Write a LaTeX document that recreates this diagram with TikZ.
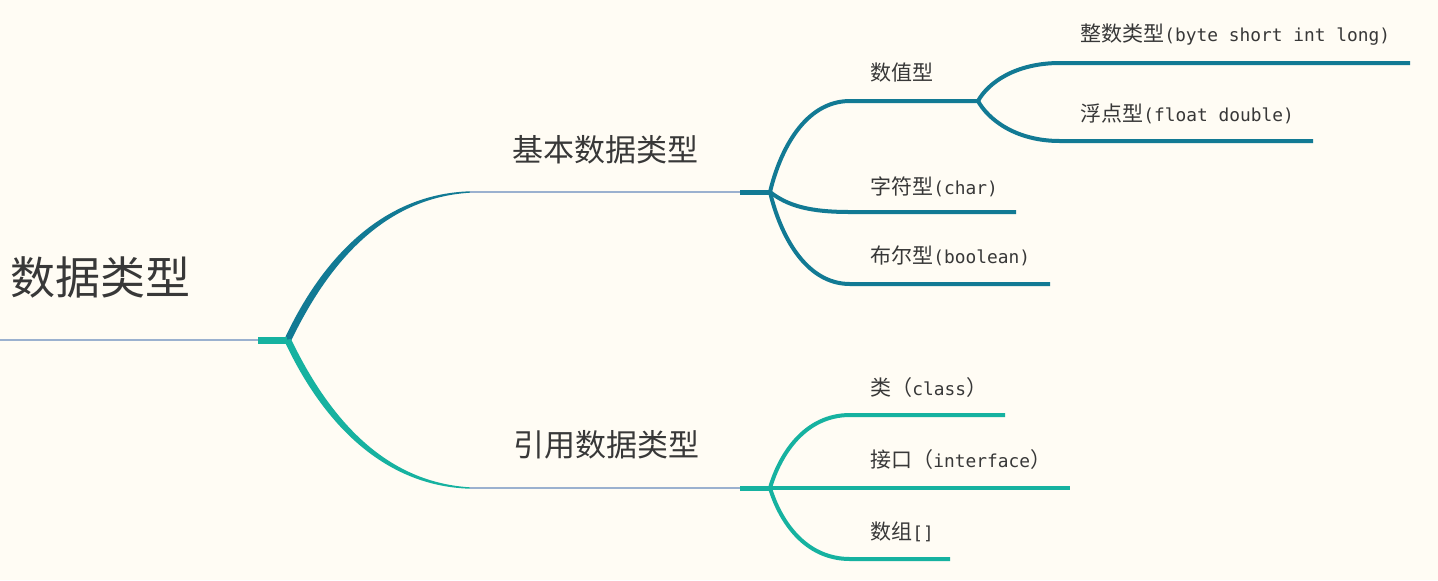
\documentclass[tikz,border=0pt]{standalone}
\usepackage{fontspec}
\newfontfamily\zhfont{Noto Sans CJK SC}
\newfontfamily\enfont{DejaVu Sans Mono}[Scale=0.85]
\definecolor{bgcream}{HTML}{FFFCF4}
\definecolor{darkteal}{HTML}{127A94}
\definecolor{greenteal}{HTML}{16B2A0}
\definecolor{linkblue}{HTML}{9BB1CF}
\definecolor{labelgray}{HTML}{383838}
\newcommand{\en}[1]{{\enfont #1}}
\tikzset{
  rootlabel/.style={anchor=west, inner sep=0pt, text=labelgray, font=\zhfont\fontsize{22.5}{26}\selectfont},
  typelabel/.style={anchor=west, inner sep=0pt, text=labelgray, font=\zhfont\fontsize{15.5}{18}\selectfont},
  leaflabel/.style={anchor=west, inner sep=0pt, text=labelgray, font=\zhfont\fontsize{10.5}{12}\selectfont},
  link/.style={draw=linkblue, line width=1pt},
  stub/.style={line width=2.5pt},
  twig/.style={line width=2pt, line cap=butt},
}
\begin{document}
\begin{tikzpicture}[x=0.5pt, y=-0.5pt]
  \fill[bgcream] (0,0) rectangle (1438,580);
  \useasboundingbox (0,0) rectangle (1438,580);

  % Root
  \coordinate (root-s) at (0,340);
  \coordinate (root-k) at (258,340);
  \coordinate (root-j) at (287,340);
  \node[rootlabel] (types) at (10,277) {数据类型};
  \draw[link] (root-s) -- (root-k);

  % Basic types
  \coordinate (basic-b) at (470,192);
  \coordinate (basic-k) at (740,192);
  \coordinate (basic-j) at (770,192);
  \node[typelabel] (basic) at (512,150) {基本数据类型};
  \fill[darkteal] (284,340) .. controls (320,262) and (380,194) .. (470,191.3)
    -- (470,192.7) .. controls (382,198) and (327,266) .. (291,341) -- cycle;
  \draw[link] (basic-b) -- (basic-k);
  \draw[stub, darkteal] (basic-k) -- (basic-j);

  % Reference types
  \coordinate (ref-b) at (470,488);
  \coordinate (ref-k) at (740,488);
  \coordinate (ref-j) at (770,488);
  \node[typelabel] (ref) at (513,445) {引用数据类型};
  \fill[greenteal] (284,340) .. controls (320,418) and (380,486) .. (470,488.7)
    -- (470,487.3) .. controls (382,482) and (327,414) .. (291,339) -- cycle;
  \draw[link] (ref-b) -- (ref-k);
  \draw[stub, greenteal] (ref-k) -- (ref-j);
  \draw[line width=3.5pt, greenteal] (root-k) -- (root-j);

  % Numeric
  \coordinate (num-b) at (850,101);
  \coordinate (num-j) at (978,101);
  \node[leaflabel] (num) at (870,73) {数值型};
  \draw[twig, darkteal] (basic-j) .. controls +(10,-42) and +(-45,0) .. (num-b) -- (num-j);

  \coordinate (int-b) at (1060,63);
  \coordinate (int-e) at (1410,63);
  \node[leaflabel] (int) at (1080,35) {整数类型\en{(byte short int long)}};
  \draw[twig, darkteal] (num-j) .. controls +(10,-18) and +(-45,0) .. (int-b) -- (int-e);

  \coordinate (float-b) at (1060,141);
  \coordinate (float-e) at (1313,141);
  \node[leaflabel] (float) at (1080,114) {浮点型\en{(float double)}};
  \draw[twig, darkteal] (num-j) .. controls +(10,18) and +(-45,0) .. (float-b) -- (float-e);

  % Char
  \coordinate (char-b) at (850,212);
  \coordinate (char-e) at (1016,212);
  \node[leaflabel] (char) at (870,187) {字符型\en{(char)}};
  \draw[twig, darkteal] (basic-j) .. controls +(18,14) and +(-40,0) .. (char-b) -- (char-e);

  % Boolean
  \coordinate (bool-b) at (850,284);
  \coordinate (bool-e) at (1050,284);
  \node[leaflabel] (bool) at (870,256) {布尔型\en{(boolean)}};
  \draw[twig, darkteal] (basic-j) .. controls +(10,42) and +(-45,0) .. (bool-b) -- (bool-e);

  % Class
  \coordinate (class-b) at (850,415);
  \coordinate (class-e) at (1005,415);
  \node[leaflabel] (class) at (870,388) {类（\en{class}）};
  \draw[twig, greenteal] (ref-j) .. controls +(10,-34) and +(-45,0) .. (class-b) -- (class-e);

  % Interface
  \coordinate (iface-e) at (1070,488);
  \node[leaflabel] (iface) at (870,460) {接口（\en{interface}）};
  \draw[twig, greenteal] (ref-j) -- (iface-e);

  % Array
  \coordinate (arr-b) at (850,559);
  \coordinate (arr-e) at (950,559);
  \node[leaflabel] (arr) at (870,532) {数组\en{[]}};
  \draw[twig, greenteal] (ref-j) .. controls +(10,33) and +(-45,0) .. (arr-b) -- (arr-e);
\end{tikzpicture}
\end{document}
